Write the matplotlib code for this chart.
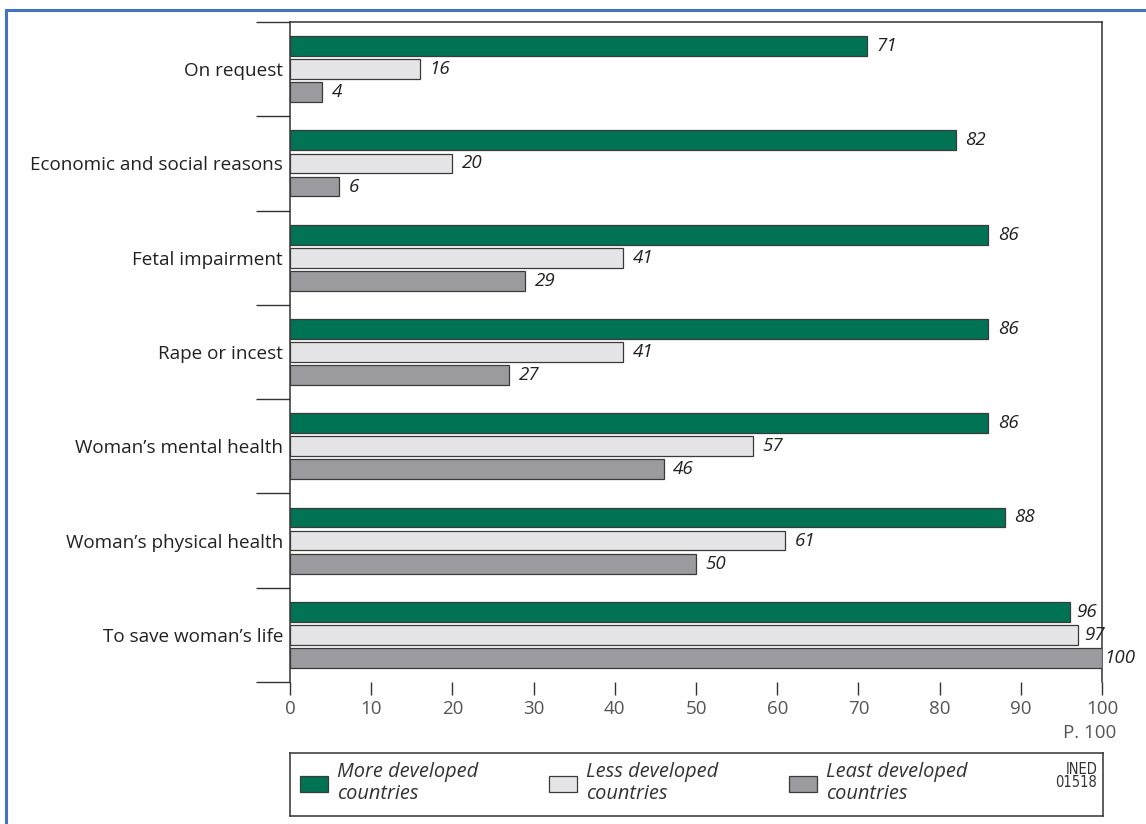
import numpy as np
import matplotlib
matplotlib.use("Agg")
import matplotlib.pyplot as plt
from matplotlib.lines import Line2D

plt.rcParams['font.family'] = ['Open Sans', 'DejaVu Sans']

categories = ["On request", "Economic and social reasons", "Fetal impairment",
              "Rape or incest", "Woman\u2019s mental health",
              "Woman\u2019s physical health", "To save woman\u2019s life"]
more_dev = [71, 82, 86, 86, 86, 88, 96]
less_dev = [16, 20, 41, 41, 57, 61, 97]
least_dev = [4, 6, 29, 27, 46, 50, 100]
series_names = ["More developed\ncountries", "Less developed\ncountries",
                "Least developed\ncountries"]
colors = ["#007355", "#e5e5e7", "#9a9a9f"]

W, H = 1146, 824
fig = plt.figure(figsize=(W / 100, H / 100), dpi=100)
ax = fig.add_axes([290 / W, 1 - 682 / H, (1102 - 290) / W, (682 - 22) / H])

y = np.arange(len(categories))
bh = 0.21
step = 0.245
edge = "#3a3a3a"
txt = "#222222"

bars = []
for k, vals in enumerate([more_dev, less_dev, least_dev]):
    b = ax.barh(y + (k - 1) * step, vals, height=bh, color=colors[k],
                edgecolor=edge, linewidth=0.9, label=series_names[k], zorder=3)
    bars.append(b)
    for yi, v in zip(y + (k - 1) * step, vals):
        off = 7 if v < 96 else (5 if v < 100 else 1.5)
        ax.annotate(str(v), (v, yi), xytext=(off, 0), textcoords="offset points",
                    ha="left", va="center", fontsize=13.5, style="italic",
                    color=txt, zorder=4)

ax.set_xlim(0, 100)
ax.set_ylim(len(categories) - 0.5, -0.5)
ax.set_yticks(y)
ax.set_yticklabels(categories, fontsize=13.6, color=txt)
ax.tick_params(axis="y", which="major", length=0, pad=5)
ax.set_yticks(np.arange(len(categories) + 1) - 0.5, minor=True)
ax.tick_params(axis="y", which="minor", length=24.5, width=1, color="#333333",
               direction="out")
ax.set_xticks(np.arange(0, 101, 10))
ax.tick_params(axis="x", length=9, width=1, color="#333333", direction="out",
               labelsize=13.5, labelcolor="#555555", pad=4)
for s in ["left", "right", "top"]:
    ax.spines[s].set_color("#333333")
    ax.spines[s].set_linewidth(1.1)
ax.spines["bottom"].set_visible(False)

fig.text(1116 / W, 1 - 733 / H, "P. 100", ha="right", va="center",
         fontsize=13.5, color="#555555")

# legend box
lax = fig.add_axes([290 / W, 1 - 816 / H, (1103 - 290) / W, (816 - 753) / H])
lax.set_xticks([])
lax.set_yticks([])
for s in lax.spines.values():
    s.set_color("#333333")
    s.set_linewidth(1.1)
leg = lax.legend(handles=bars, loc="center left", bbox_to_anchor=(0.002, 0.52),
                 ncol=3, frameon=False, fontsize=14.4, handlelength=1.4,
                 handleheight=0.85, handletextpad=0.45, columnspacing=3.55,
                 borderaxespad=0)
for t in leg.get_texts():
    t.set_style("italic")
    t.set_color("#333333")
    t.set_linespacing(1.15)
lax.text(0.993, 0.86, "INED\n01518", transform=lax.transAxes, ha="right",
         va="top", fontsize=10.5, color="#333333", family="DejaVu Sans",
         fontstretch="condensed", linespacing=0.85)

# blue page frame
fig.add_artist(Line2D([6 / W, 1], [1 - 10 / H, 1 - 10 / H], color="#4472c4",
                      linewidth=2.2, transform=fig.transFigure))
fig.add_artist(Line2D([6 / W, 6 / W], [0, 1 - 10 / H], color="#4472c4",
                      linewidth=2.2, transform=fig.transFigure))

fig.savefig("out.png", dpi=100)
